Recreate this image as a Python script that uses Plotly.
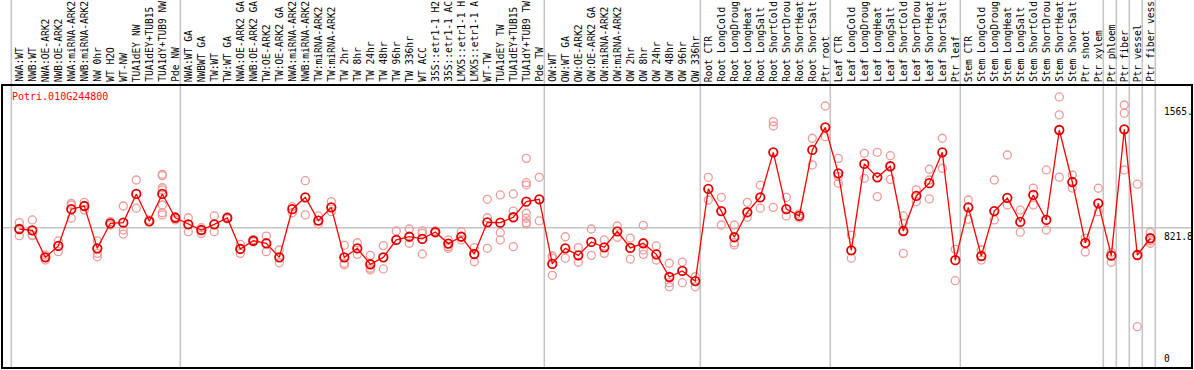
import plotly.graph_objects as go

categories = [
    "NWA:WT", "NWB:WT", "NWA:OE-ARK2", "NWB:OE-ARK2", "NWA:miRNA-ARK2", "NWB:miRNA-ARK2",
    "NW 0hr", "WT H2O", "WT-NW", "TUA1dEY NW", "TUA1dEY+TUB15", "TUA1dY+TUB9 NW", "Pde NW",
    "NWA:WT GA", "NWBWT GA", "TW:WT", "TW:WT GA", "NWA:OE-ARK2 GA", "NWB:OE-ARK2 GA",
    "TW:OE-ARK2", "TW:OE-ARK2 GA", "NWA:miRNA-ARK2", "NWB:miRNA-ARK2", "TW:miRNA-ARK2",
    "TW:miRNA-ARK2", "TW 2hr", "TW 8hr", "TW 24hr", "TW 48hr", "TW 96hr", "TW 336hr",
    "WT ACC", "35S::etr1-1 H2", "35S::etr1-1 AC", "LMX5::etr1-1 H", "LMX5::etr1-1 A",
    "WT-TW", "TUA1dEY TW", "TUA1dEY+TUB15", "TUA1dY+TUB9 TW", "Pde TW",
    "OW:WT", "OW:WT GA", "OW:OE-ARK2", "OW:OE-ARK2 GA", "OW:miRNA-ARK2", "OW:miRNA-ARK2",
    "OW 2hr", "OW 8hr", "OW 24hr", "OW 48hr", "OW 96hr", "OW 336hr",
    "Root CTR", "Root LongCold", "Root LongDroug", "Root LongHeat", "Root LongSalt",
    "Root ShortCold", "Root ShortDrou", "Root ShortHeat", "Root ShortSalt", "Ptr root",
    "Leaf CTR", "Leaf LongCold", "Leaf LongDroug", "Leaf LongHeat", "Leaf LongSalt",
    "Leaf ShortCold", "Leaf ShortDrou", "Leaf ShortHeat", "Leaf ShortSalt", "Ptr leaf",
    "Stem CTR", "Stem LongCold", "Stem LongDroug", "Stem LongHeat", "Stem LongSalt",
    "Stem ShortCold", "Stem ShortDrou", "Stem ShortHeat", "Stem ShortSalt",
    "Ptr shoot", "Ptr xylem", "Ptr phloem", "Ptr fiber", "Ptr vessel", "Ptr fiber vess",
]

means = [
    814, 806, 645, 713, 932, 951, 699, 848, 852, 1023, 860, 1023, 881,
    842, 808, 842, 880, 695, 744, 729, 645, 932, 1003, 864, 943, 645, 699, 604, 645,
    749, 768, 755, 796, 727, 768, 665, 854, 852, 884, 977, 991,
    606, 699, 657, 737, 705, 800, 701, 729, 663, 528, 564, 504,
    1053, 921, 765, 914, 1003, 1271, 933, 892, 1285, 1420,
    1146, 687, 1202, 1122, 1188, 802, 1011, 1087, 1271, 628,
    943, 653, 921, 999, 856, 1017, 868, 1404, 1094, 731, 967,
    655, 1408, 659, 759,
]

replicates = [
    [852, 814, 774], [868, 778, 774], [645, 629, 659], [743, 679, 713],
    [967, 957, 878], [973, 927, 951], [743, 669, 649], [858, 838],
    [951, 808, 784], [1106, 938], [868, 858],
    [1140, 1132, 1060, 1047, 957, 911, 898], [887, 868],
    [881, 798], [822, 788], [892, 798], [887, 874], [723, 669], [751, 737],
    [772, 679], [689, 613], [947, 911], [1102, 898], [892, 844], [977, 917],
    [717, 610, 600], [732, 663], [657, 580, 570], [715, 576], [802, 749],
    [814, 729], [802, 788, 665], [802, 790], [749, 709, 699], [798, 749],
    [703, 619], [991, 881, 699], [1017, 792, 749], [1023, 921, 709],
    [1235, 1090, 1076, 908, 878, 852, 844], [1122, 862],
    [653, 640, 538], [768, 640], [703, 616], [814, 657], [749, 669],
    [832, 765], [760, 635], [836, 689, 663], [713, 629], [610, 494, 470],
    [617, 494], [530, 470],
    [1122, 987], [1003, 838], [838, 732, 719], [973, 884], [1075, 938],
    [1454, 1428, 943], [1003, 892], [904, 880], [1355, 1196], [1547, 1364],
    [1235, 1126, 1087], [778, 640], [1265, 1116], [1271, 1007], [1251, 1110],
    [892, 848, 669], [1047, 977], [1170, 1106, 993], [1355, 1176], [693, 506],
    [987, 872], [689, 629], [1106, 868], [1255, 957], [927, 795], [1058, 957],
    [1166, 808], [1601, 1494, 1123], [1136, 1058], [760, 677], [1057, 917],
    [675, 616], [1553, 1504, 1166], [1081, 232], [794, 744, 729],
]

group_breaks = [-0.5, 12.5, 40.5, 52.5, 62.5, 72.5, 83.5, 84.5, 85.5, 86.5, 87.5]
gene_id = "Potri.010G244800"
overall_mean = 821.8
y_tick_values = [1565, 821.8, 0]
y_tick_labels = ["1565.", "821.8", "0"]

W, H = 1194, 370
ML, MR, MT, MB = 2, 2, 85, 2
plot_h = H - MT - MB

FONT = "DejaVu Sans Mono"
x_idx = list(range(len(categories)))

rep_x, rep_y = [], []
for i, reps in enumerate(replicates):
    for v in reps:
        rep_x.append(i)
        rep_y.append(v)

fig = go.Figure()
fig.add_trace(go.Scatter(
    x=rep_x, y=rep_y, mode="markers", hoverinfo="skip",
    marker=dict(symbol="circle-open", size=8, color="#f09a9a", line=dict(width=1.3)),
    cliponaxis=False,
))
fig.add_trace(go.Scatter(
    x=x_idx, y=means, mode="lines+markers",
    line=dict(color="#ff0000", width=1.3),
    marker=dict(symbol="circle-open", size=8.5, color="#e00000", line=dict(width=1.8)),
    cliponaxis=False,
))

shapes = []
shapes.append(dict(type="line", xref="paper", yref="y", x0=0, x1=1,
                   y0=overall_mean, y1=overall_mean,
                   line=dict(color="#c4c4c4", width=1.5), layer="below"))
for b in group_breaks:
    shapes.append(dict(type="line", xref="x", yref="paper", x0=b - 0.115, x1=b - 0.115,
                       y0=0, y1=1 + MT / plot_h,
                       line=dict(color="#c4c4c4", width=1.5), layer="below"))
shapes.append(dict(type="rect", xref="paper", yref="paper", x0=0, x1=1, y0=0, y1=1,
                   line=dict(color="black", width=2), layer="above"))

annotations = []
for i, c in enumerate(categories):
    annotations.append(dict(x=i, y=1, xref="x", yref="paper", text=c, showarrow=False,
                            textangle=-90, xanchor="center", yanchor="bottom", yshift=1,
                            font=dict(family=FONT, size=9.6, color="black")))
annotations.append(dict(x=(9.5 - ML) / (W - ML - MR), y=1 - (97 - MT) / plot_h,
                        xref="paper", yref="paper", text=gene_id, showarrow=False,
                        xanchor="left", yanchor="middle",
                        font=dict(family=FONT, size=10, color="#ff0000")))
for v, t in zip(y_tick_values, y_tick_labels):
    annotations.append(dict(x=(1162 - ML) / (W - ML - MR), y=v, xref="paper", yref="y",
                            text=t, showarrow=False, xanchor="left",
                            yanchor="bottom" if v == 0 else "top",
                            yshift=0 if v == 0 else -1,
                            font=dict(family=FONT, size=9.6, color="black")))

fig.update_layout(
    width=W, height=H,
    margin=dict(l=ML, r=MR, t=MT, b=MB, pad=0),
    paper_bgcolor="white", plot_bgcolor="white",
    showlegend=False,
    xaxis=dict(range=[-1.3308, 90.208], visible=False, fixedrange=True),
    yaxis=dict(range=[-14.3, 1672.2], visible=False, fixedrange=True),
    shapes=shapes, annotations=annotations,
)

fig.write_html(
    "out.html",
    config={"displayModeBar": False},
    post_script="document.body.style.margin='0';document.body.style.overflow='hidden';",
)
